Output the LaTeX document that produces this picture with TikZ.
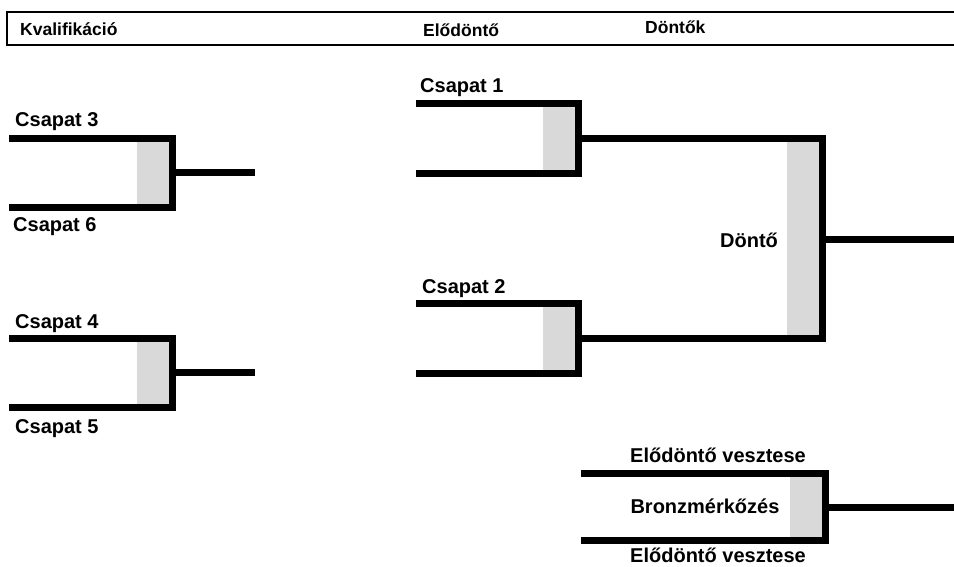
\documentclass[tikz,border=0pt]{standalone}
\usepackage{fontspec}
\setmainfont{Liberation Sans}
\definecolor{boxgray}{HTML}{D9D9D9}
\tikzset{
  bline/.style={line width=7pt, line join=miter, line cap=butt},
  gbar/.style={fill=boxgray, draw=none},
  team/.style={font=\fontsize{20}{24}\selectfont\bfseries, inner sep=0pt, anchor=base west},
  mid/.style={font=\fontsize{20}{24}\selectfont\bfseries, inner sep=0pt, anchor=base},
  head/.style={font=\fontsize{17.5}{20}\selectfont\bfseries, inner sep=0pt, anchor=base west},
  hbox/.style={draw, line width=2.5pt},
}
\begin{document}
\begin{tikzpicture}[x=1pt,y=-1pt]
\useasboundingbox (0,0) rectangle (954,566);
% header
\draw[hbox] (7,12) rectangle (965,45);
\node[head] (hq) at (20,35) {Kvalifikáció};
\node[head] (hs) at (423,36) {Elődöntő};
\node[head] (hf) at (645,33) {Döntők};

% qualification bracket 1
\fill[gbar] (137,138) rectangle (172,207);
\draw[bline] (9,138) -- (172,138) -- (172,207) -- (9,207);
\coordinate (q1) at (172,172);
\coordinate (q1o) at (255,172);
\draw[bline] (q1) -- (q1o);
\node[team] (c3) at (15,126) {Csapat 3};
\node[team] (c6) at (13,231) {Csapat 6};

% qualification bracket 2
\fill[gbar] (137,338) rectangle (172,407);
\draw[bline] (9,338) -- (172,338) -- (172,407) -- (9,407);
\coordinate (q2) at (172,372);
\coordinate (q2o) at (255,372);
\draw[bline] (q2) -- (q2o);
\node[team] (c4) at (15,328) {Csapat 4};
\node[team] (c5) at (15,433) {Csapat 5};

% semifinal 1
\fill[gbar] (543,103) rectangle (578,173);
\draw[bline] (416,103) -- (578,103) -- (578,173) -- (416,173);
\node[team] (c1) at (420,92) {Csapat 1};

% semifinal 2
\fill[gbar] (543,303) rectangle (578,373);
\draw[bline] (416,303) -- (578,303) -- (578,373) -- (416,373);
\node[team] (c2) at (422,293) {Csapat 2};

% final
\coordinate (s1) at (578,138);
\coordinate (s2) at (578,338);
\fill[gbar] (787,138) rectangle (822,338);
\draw[bline] (s1) -- (822,138) -- (822,338) -- (s2);
\coordinate (f) at (822,239);
\coordinate (fo) at (960,239);
\draw[bline] (f) -- (fo);
\node[mid] (dt) at (749,247) {Döntő};

% bronze
\fill[gbar] (790,473) rectangle (825,540);
\draw[bline] (581,473) -- (825,473) -- (825,540) -- (581,540);
\coordinate (b) at (825,507);
\coordinate (bo) at (960,507);
\draw[bline] (b) -- (bo);
\node[mid] (l1) at (718,462) {Elődöntő vesztese};
\node[mid] (bz) at (705,513) {Bronzmérkőzés};
\node[mid] (l2) at (718,562) {Elődöntő vesztese};
\end{tikzpicture}
\end{document}
